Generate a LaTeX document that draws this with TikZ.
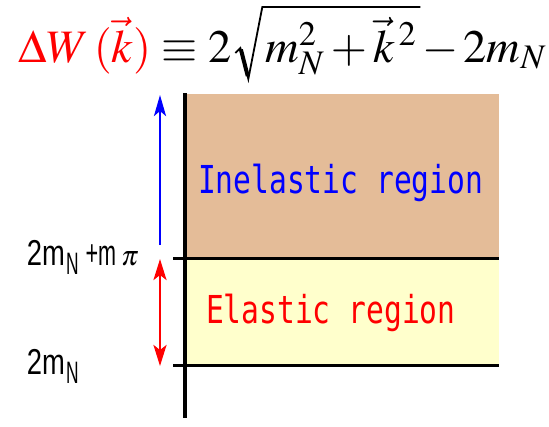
\documentclass[tikz,border=0pt]{standalone}
\usepackage{mathptmx}
\usepackage{fontspec}
\setmainfont{Liberation Serif}
\newfontfamily\lblfont{Liberation Sans}
\newfontfamily\regfont{DejaVu Sans Mono}
\usetikzlibrary{arrows.meta,calc}
\definecolor{brownreg}{RGB}{228,188,152}
\definecolor{yellowreg}{RGB}{255,255,204}
\newcommand{\twomN}{\lblfont\fontsize{36}{40}\selectfont\scalebox{0.76}[1]{2m}\kern1pt\raisebox{-9pt}{\scalebox{0.56}[1]{\fontsize{31}{34}\selectfont N}}}
\newcommand{\titlesize}{\fontsize{46.5}{54}\selectfont}
\begin{document}
\begin{tikzpicture}[x=1pt,y=-1pt,
  every node/.style={inner sep=0pt,outer sep=0pt},
  levelline/.style={line width=3pt,black},
  axisline/.style={line width=3.2pt,black},
  uparrow/.style={line width=2.6pt,blue,-{Stealth[length=21pt,width=12pt,inset=5pt]}},
  bothArrow/.style={line width=2.6pt,red,{Stealth[length=21pt,width=13pt,inset=5pt]}-{Stealth[length=21pt,width=13pt,inset=5pt]}},
  lvllabel/.style={anchor=base west,text=black},
  regionlabel/.style={anchor=base west},
  titlepart/.style={anchor=base west,font=\titlesize},
  radicalline/.style={line width=1.8pt,line join=miter,black}]
\useasboundingbox (0,0) rectangle (549,426);
% regions
\fill[brownreg] (186,94) rectangle (499,258);
\fill[yellowreg] (186,258) rectangle (499,365);
% axis
\coordinate (axtop) at (185,93);
\coordinate (axbot) at (185,418);
\draw[axisline] (axtop) -- (axbot);
% level lines
\coordinate (l1a) at (173,258); \coordinate (l1b) at (499,258);
\coordinate (l2a) at (173,365); \coordinate (l2b) at (499,365);
\draw[levelline] (l1a) -- (l1b);
\draw[levelline] (l2a) -- (l2b);
% arrows
\coordinate (ba) at (160,245); \coordinate (bb) at (160,95);
\draw[uparrow] (ba) -- (bb);
\coordinate (ra) at (160,259); \coordinate (rb) at (160,366);
\draw[bothArrow] (ra) -- (rb);
% title
\node[titlepart] (t1) at (18,62) {$\color{red}\Delta W\,(\vec{k})\color{black}\equiv 2$};
\coordinate (rA) at ($(t1.base east)+(4,-9)$);
\coordinate (rB) at ($(t1.base east)+(9,-14)$);
\coordinate (rC) at ($(t1.base east)+(17,17)$);
\coordinate (rTop) at ($(t1.base east)+(31,-55)$);
\node[titlepart] (t2) at ($(t1.base east)+(34,0)$) {$m_N^2+\vec{k}^{\,2}$};
\coordinate (rEnd) at ($(t2.base east |- rTop)+(4,0)$);
\node[titlepart] (t3) at ($(t2.base east)+(6,0)$) {$-\,2m_N$};
\draw[radicalline] (rA) -- (rB) -- (rC) -- (rTop) -- (rEnd);
\draw[line width=4pt,black] ($(rB)+(0.6,1.5)$) -- ($(rC)+(-0.6,-3)$);
% level labels
\node[lvllabel] (lblA) at (27,265) {\twomN\kern7pt{\fontsize{36}{40}\selectfont\scalebox{0.6}[1]{+m}}\kern5pt{\fontsize{28}{30}\selectfont$\pi$}};
\node[lvllabel] (lblB) at (27,374) {\twomN};
% region labels
\node[regionlabel,text=blue] (inel) at (198,193) {\scalebox{1}[1.3]{\regfont\fontsize{29.6}{32}\selectfont Inelastic region}};
\node[regionlabel,text=red] (el) at (206,323) {\scalebox{1}[1.3]{\regfont\fontsize{29.6}{32}\selectfont Elastic region}};
\end{tikzpicture}
\end{document}
